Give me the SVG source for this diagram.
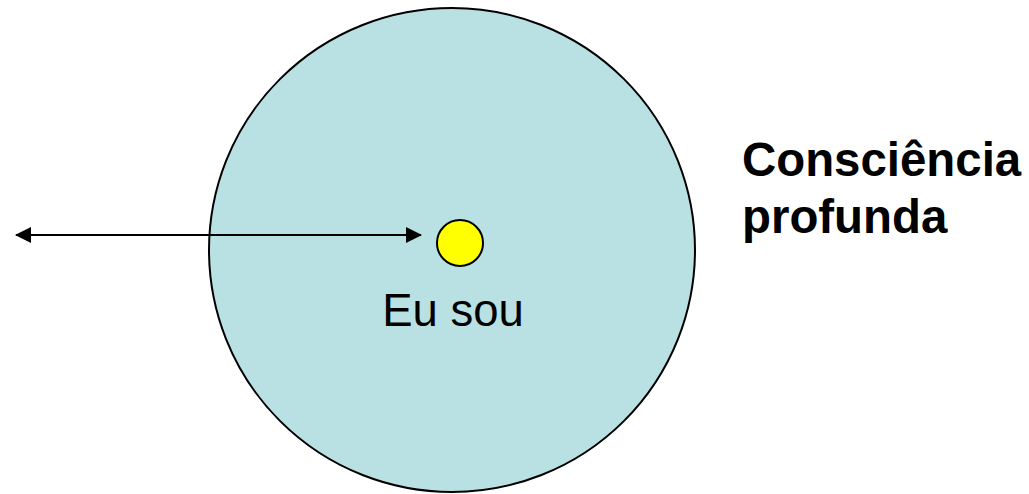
<svg xmlns="http://www.w3.org/2000/svg" width="1029" height="494" viewBox="0 0 1029 494">
<style>
.lbl{font-family:"Liberation Sans",Arial,sans-serif;fill:#000}
.conn{stroke:#000;stroke-width:2;fill:none}
</style>
<defs>
<marker id="ah" markerWidth="16" markerHeight="16" refX="15" refY="8" orient="auto-start-reverse" markerUnits="userSpaceOnUse">
<path d="M0,0 L16,8 L0,16 Z" fill="#000"/>
</marker>
</defs>
<rect width="1029" height="494" fill="#fff"/>
<g id="consciencia">
<ellipse cx="452" cy="250" rx="243" ry="242" fill="#b9e0e3" stroke="#000" stroke-width="2"/>
</g>
<g id="eu-sou">
<circle cx="460" cy="243" r="23" fill="#ffff00" stroke="#000" stroke-width="2"/>
<text class="lbl" x="453" y="326" font-size="45.5" text-anchor="middle">Eu sou</text>
</g>
<g id="label">
<text class="lbl" x="742" y="176" font-size="47.4" font-weight="bold">Consciência</text>
<text class="lbl" x="742" y="233" font-size="47.4" font-weight="bold">profunda</text>
</g>
<g id="connectors">
<line class="conn" x1="16" y1="235" x2="421" y2="235" marker-start="url(#ah)" marker-end="url(#ah)"/>
</g>
</svg>
